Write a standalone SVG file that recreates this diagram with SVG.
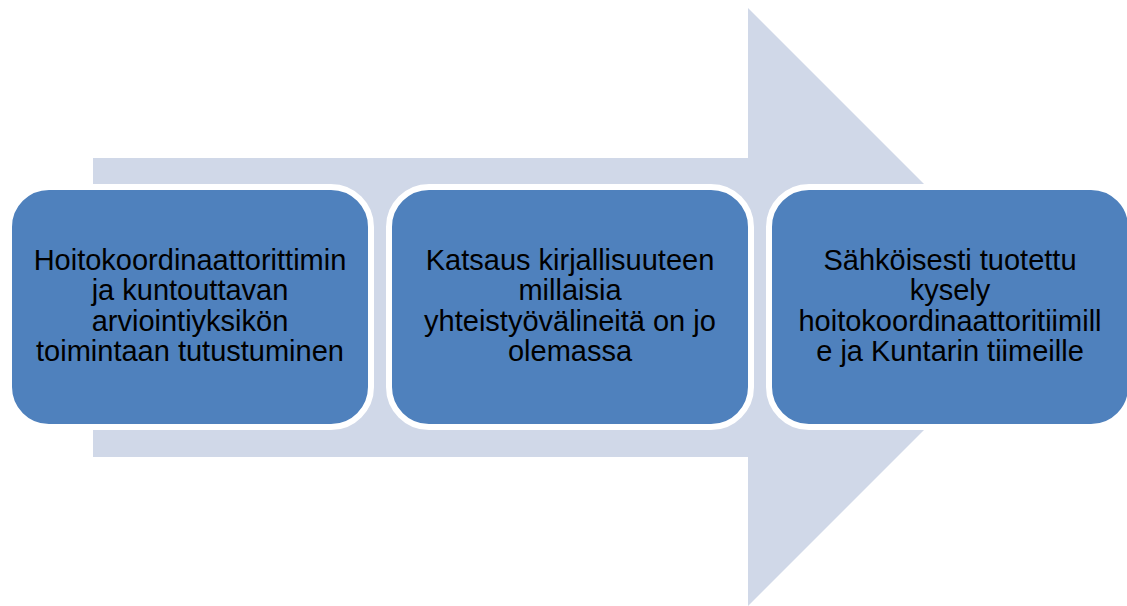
<svg xmlns="http://www.w3.org/2000/svg" width="1127" height="606" viewBox="0 0 1127 606">
<style>
.box{fill:#4F81BD;stroke:#FFFFFF;stroke-width:6}
.lbl{font-family:"Liberation Sans",Arial,sans-serif;font-size:29px;fill:#000000;text-anchor:middle}
</style>
<rect width="1127" height="606" fill="#FFFFFF"/>
<g id="arrow">
<polygon points="93,158 748,158 748,8 1047,307 748,606 748,457 93,457" fill="#D0D8E8"/>
</g>
<g id="node1">
<rect class="box" x="9" y="187" width="362" height="240" rx="40" ry="40"/>
<text class="lbl" x="190" y="270">Hoitokoordinaattorittimin</text>
<text class="lbl" x="190" y="300">ja kuntouttavan</text>
<text class="lbl" x="190" y="331">arviointiyksikön</text>
<text class="lbl" x="190" y="361">toimintaan tutustuminen</text>
</g>
<g id="node2">
<rect class="box" x="389" y="187" width="362" height="240" rx="40" ry="40"/>
<text class="lbl" x="570" y="270">Katsaus kirjallisuuteen</text>
<text class="lbl" x="570" y="300">millaisia</text>
<text class="lbl" x="570" y="331">yhteistyövälineitä on jo</text>
<text class="lbl" x="570" y="361">olemassa</text>
</g>
<g id="node3">
<rect class="box" x="769" y="187" width="362" height="240" rx="40" ry="40"/>
<text class="lbl" x="950" y="270">Sähköisesti tuotettu</text>
<text class="lbl" x="950" y="300">kysely</text>
<text class="lbl" x="950" y="331">hoitokoordinaattoritiimill</text>
<text class="lbl" x="950" y="361">e ja Kuntarin tiimeille</text>
</g>
<g id="connectors"></g>
</svg>
